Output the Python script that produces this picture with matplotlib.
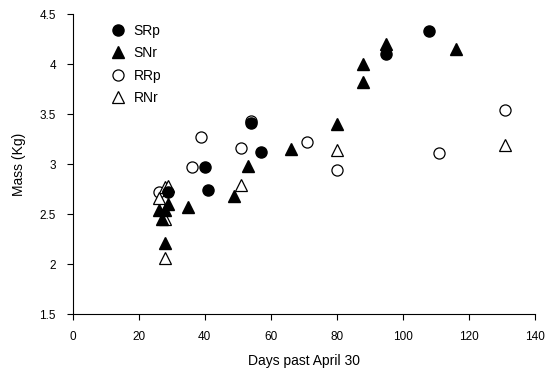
import matplotlib
matplotlib.use("Agg")
import matplotlib.pyplot as plt

plt.rcParams["font.family"] = ["Liberation Sans", "DejaVu Sans"]

# ── data ─────────────────────────────────────────────────────────────────────
srp_days = [29, 40, 41, 54, 57, 95, 108]
srp_mass = [2.72, 2.97, 2.74, 3.41, 3.12, 4.10, 4.33]

snr_days = [26, 28, 29, 27, 28, 35, 49, 53, 66, 80, 88, 88, 95, 116]
snr_mass = [2.54, 2.54, 2.60, 2.45, 2.21, 2.57, 2.68, 2.98, 3.15, 3.40, 3.82, 4.00, 4.20, 4.15]

rrp_days = [26, 36, 39, 51, 54, 71, 80, 111, 131]
rrp_mass = [2.72, 2.97, 3.27, 3.16, 3.43, 3.22, 2.94, 3.11, 3.54]

rnr_days = [26, 28, 29, 28, 28, 51, 80, 131]
rnr_mass = [2.66, 2.77, 2.78, 2.45, 2.06, 2.79, 3.14, 3.19]

x_ticks = [0, 20, 40, 60, 80, 100, 120, 140]
y_ticks = [1.5, 2, 2.5, 3, 3.5, 4, 4.5]
y_labels = ["1.5", "2", "2.5", "3", "3.5", "4", "4.5"]

fig = plt.figure(figsize=(5.57, 3.72), dpi=100)
ax = fig.add_axes([0.1305, 0.155, 0.83, 0.8066])

ms = 8
ax.plot(rrp_days, rrp_mass, "o", ms=ms, mfc="white", mec="black", mew=0.9, ls="none", label="RRp", zorder=2)
ax.plot(rnr_days, rnr_mass, "^", ms=ms, mfc="white", mec="black", mew=0.9, ls="none", label="RNr", zorder=2)
ax.plot(srp_days, srp_mass, "o", ms=ms, mfc="black", mec="black", ls="none", label="SRp", zorder=3)
ax.plot(snr_days, snr_mass, "^", ms=ms, mfc="black", mec="black", ls="none", label="SNr", zorder=3)

handles, labels = ax.get_legend_handles_labels()
order = [2, 3, 0, 1]
ax.legend([handles[i] for i in order], [labels[i] for i in order],
          loc="upper left", bbox_to_anchor=(0.063, 1.0), frameon=False,
          fontsize=10, handletextpad=0.6, labelspacing=0.6,
          borderaxespad=0.3, handlelength=1.0)

ax.set_xlim(0, 140)
ax.set_ylim(1.5, 4.5)
ax.set_xticks(x_ticks)
ax.set_yticks(y_ticks)
ax.set_yticklabels(y_labels)
ax.tick_params(direction="out", length=4, width=0.8, labelsize=8.5, pad=8)

for side in ("top", "right"):
    ax.spines[side].set_visible(False)
for side in ("left", "bottom"):
    ax.spines[side].set_linewidth(0.8)

ax.set_xlabel("Days past April 30", fontsize=10, labelpad=8)
ax.set_ylabel("Mass (Kg)", fontsize=10, labelpad=10)

fig.savefig("out.png", dpi=100)
